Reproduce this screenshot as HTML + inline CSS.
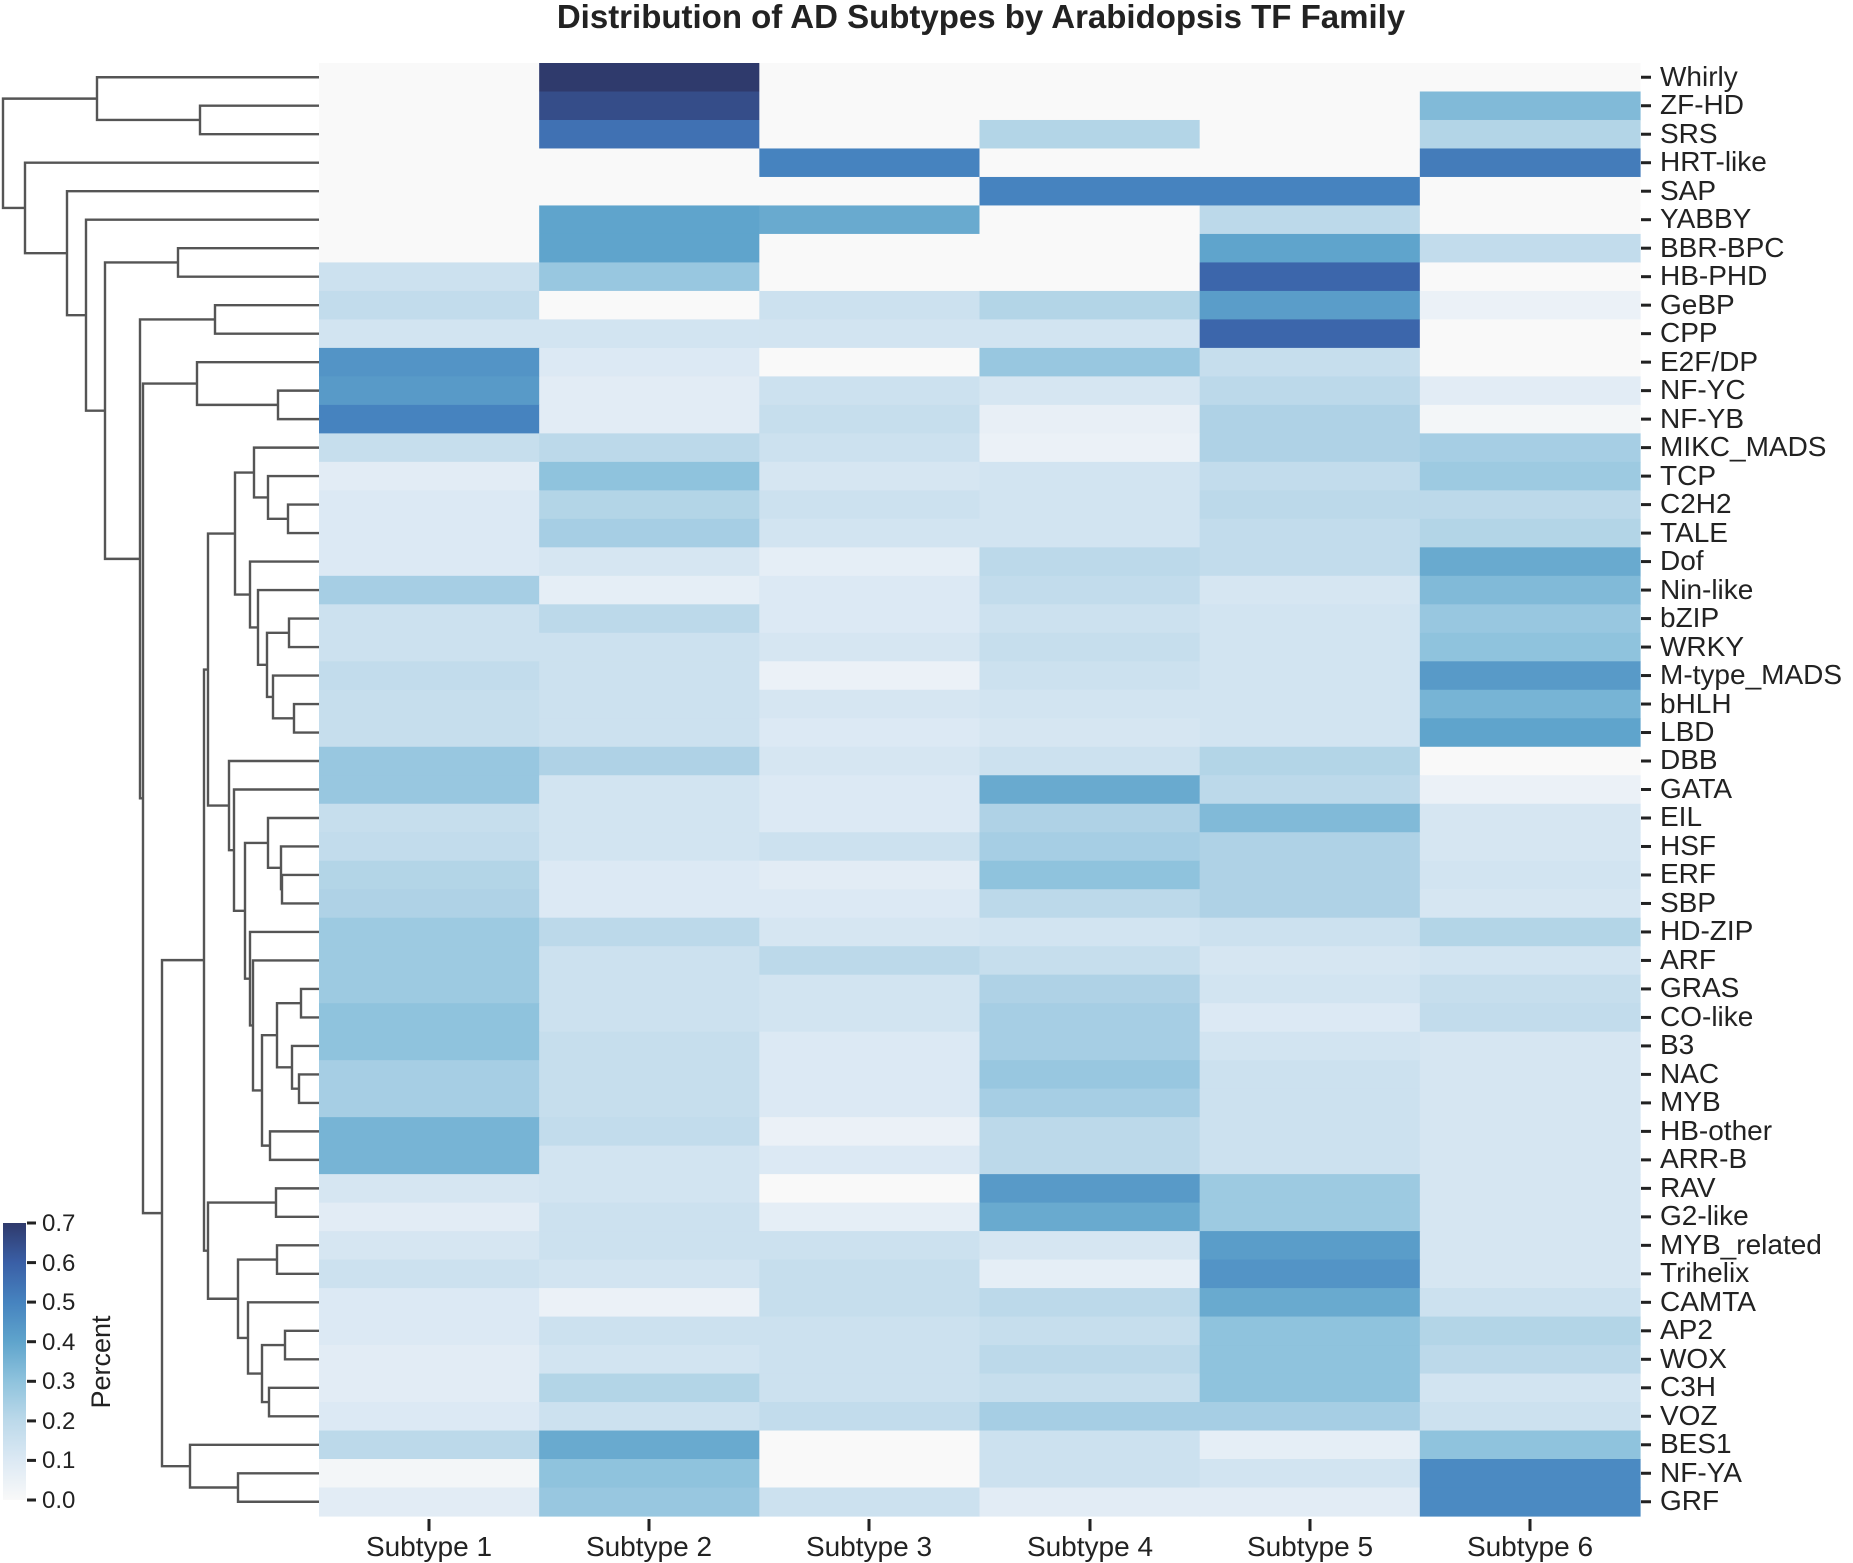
<!DOCTYPE html>
<html><head><meta charset="utf-8">
<style>
html,body{margin:0;padding:0;background:#fff;}
svg{display:block;}
text{font-family:"Liberation Sans",Arial,sans-serif;fill:#222;}
</style></head>
<body>
<svg id="s" width="1853" height="1563" viewBox="0 0 1853 1563" xmlns="http://www.w3.org/2000/svg">
<defs>
<linearGradient id="cb" x1="0" y1="1" x2="0" y2="0">
<stop offset="0" stop-color="#f9f9f9"/>
<stop offset="0.142857" stop-color="#dce9f4"/>
<stop offset="0.285714" stop-color="#bcd9ea"/>
<stop offset="0.428571" stop-color="#8fc3dd"/>
<stop offset="0.571429" stop-color="#5fa4cc"/>
<stop offset="0.714286" stop-color="#4683bf"/>
<stop offset="0.857143" stop-color="#3a5fa6"/>
<stop offset="1" stop-color="#2f3a6c"/>
</linearGradient>
</defs>
<g id="cells"></g>
<g id="dendro" fill="none" stroke="#555" stroke-width="2.4"></g>
<text x="981" y="28" text-anchor="middle" font-size="33" font-weight="bold">Distribution of AD Subtypes by Arabidopsis TF Family</text>
<g id="rt" stroke="#222" stroke-width="3"></g>
<g font-size="28">
<text x="1660" y="86">Whirly</text><text x="1660" y="114">ZF-HD</text><text x="1660" y="143">SRS</text><text x="1660" y="171">HRT-like</text><text x="1660" y="200">SAP</text><text x="1660" y="228">YABBY</text><text x="1660" y="257">BBR-BPC</text><text x="1660" y="285">HB-PHD</text><text x="1660" y="314">GeBP</text><text x="1660" y="342">CPP</text><text x="1660" y="371">E2F/DP</text><text x="1660" y="399">NF-YC</text><text x="1660" y="428">NF-YB</text><text x="1660" y="456">MIKC_MADS</text><text x="1660" y="485">TCP</text><text x="1660" y="513">C2H2</text><text x="1660" y="542">TALE</text><text x="1660" y="570">Dof</text><text x="1660" y="599">Nin-like</text><text x="1660" y="627">bZIP</text><text x="1660" y="656">WRKY</text><text x="1660" y="684">M-type_MADS</text><text x="1660" y="713">bHLH</text><text x="1660" y="741">LBD</text><text x="1660" y="769">DBB</text><text x="1660" y="798">GATA</text><text x="1660" y="826">EIL</text><text x="1660" y="855">HSF</text><text x="1660" y="883">ERF</text><text x="1660" y="912">SBP</text><text x="1660" y="940">HD-ZIP</text><text x="1660" y="969">ARF</text><text x="1660" y="997">GRAS</text><text x="1660" y="1026">CO-like</text><text x="1660" y="1054">B3</text><text x="1660" y="1083">NAC</text><text x="1660" y="1111">MYB</text><text x="1660" y="1140">HB-other</text><text x="1660" y="1168">ARR-B</text><text x="1660" y="1197">RAV</text><text x="1660" y="1225">G2-like</text><text x="1660" y="1254">MYB_related</text><text x="1660" y="1282">Trihelix</text><text x="1660" y="1311">CAMTA</text><text x="1660" y="1339">AP2</text><text x="1660" y="1368">WOX</text><text x="1660" y="1396">C3H</text><text x="1660" y="1425">VOZ</text><text x="1660" y="1453">BES1</text><text x="1660" y="1482">NF-YA</text><text x="1660" y="1510">GRF</text>
</g>
<g stroke="#222" stroke-width="3">
<line x1="429" y1="1519" x2="429" y2="1531"/><line x1="649" y1="1519" x2="649" y2="1531"/><line x1="869" y1="1519" x2="869" y2="1531"/><line x1="1090" y1="1519" x2="1090" y2="1531"/><line x1="1310" y1="1519" x2="1310" y2="1531"/><line x1="1530" y1="1519" x2="1530" y2="1531"/>
</g>
<g font-size="28" text-anchor="middle">
<text x="429" y="1556">Subtype 1</text><text x="649" y="1556">Subtype 2</text><text x="869" y="1556">Subtype 3</text><text x="1090" y="1556">Subtype 4</text><text x="1310" y="1556">Subtype 5</text><text x="1530" y="1556">Subtype 6</text>
</g>
<rect x="3" y="1223" width="23" height="277" fill="url(#cb)"/>
<g stroke="#222" stroke-width="3">
<line x1="27" y1="1223" x2="36" y2="1223"/><line x1="27" y1="1262.6" x2="36" y2="1262.6"/><line x1="27" y1="1302.1" x2="36" y2="1302.1"/><line x1="27" y1="1341.7" x2="36" y2="1341.7"/><line x1="27" y1="1381.3" x2="36" y2="1381.3"/><line x1="27" y1="1420.9" x2="36" y2="1420.9"/><line x1="27" y1="1460.4" x2="36" y2="1460.4"/><line x1="27" y1="1500" x2="36" y2="1500"/>
</g>
<g font-size="24">
<text x="42" y="1231">0.7</text><text x="42" y="1271">0.6</text><text x="42" y="1310">0.5</text><text x="42" y="1350">0.4</text><text x="42" y="1389">0.3</text><text x="42" y="1429">0.2</text><text x="42" y="1468">0.1</text><text x="42" y="1508">0.0</text>
</g>
<text x="110" y="1362" font-size="27" text-anchor="middle" transform="rotate(-90 110 1362)">Percent</text>
</svg>
<script>
(function(){
var NS="http://www.w3.org/2000/svg";
var V=[
[0,.7,0,0,0,0],[0,.65,0,0,0,.33],[0,.55,0,.22,0,.22],[0,0,.5,0,0,.52],[0,0,0,.5,.5,0],
[0,.4,.38,0,.2,0],[0,.4,0,0,.4,.18],[.15,.28,0,0,.58,0],[.18,0,.15,.22,.42,.05],[.13,.13,.13,.13,.58,0],
[.45,.1,0,.28,.17,0],[.43,.08,.15,.12,.2,.08],[.5,.08,.17,.06,.23,.02],[.17,.2,.15,.05,.23,.25],[.08,.3,.12,.13,.18,.27],
[.1,.22,.15,.13,.2,.2],[.1,.25,.13,.13,.18,.22],[.1,.12,.07,.2,.18,.38],[.25,.07,.1,.18,.12,.33],[.15,.2,.1,.15,.13,.28],
[.15,.15,.12,.17,.13,.3],[.18,.15,.05,.15,.13,.43],[.17,.15,.12,.13,.13,.35],[.17,.15,.1,.12,.13,.4],[.28,.23,.12,.15,.22,0],
[.28,.13,.1,.38,.2,.05],[.17,.13,.1,.23,.33,.12],[.18,.13,.15,.25,.23,.12],[.22,.1,.08,.3,.23,.13],[.23,.1,.1,.2,.23,.12],
[.27,.2,.12,.13,.15,.22],[.27,.15,.2,.17,.12,.13],[.27,.15,.13,.23,.13,.17],[.3,.15,.13,.25,.1,.18],[.3,.17,.1,.25,.13,.12],
[.25,.17,.1,.28,.15,.12],[.25,.17,.1,.25,.15,.12],[.35,.18,.05,.2,.15,.12],[.35,.13,.1,.2,.15,.12],[.12,.13,0,.43,.27,.12],
[.08,.15,.07,.38,.27,.12],[.12,.15,.15,.12,.42,.12],[.15,.13,.17,.07,.45,.12],[.1,.05,.17,.2,.38,.15],[.1,.15,.15,.17,.3,.22],
[.08,.13,.15,.2,.3,.2],[.08,.22,.15,.17,.3,.13],[.1,.15,.18,.25,.25,.15],[.2,.38,0,.15,.07,.3],[.02,.3,0,.15,.13,.48],
[.08,.28,.15,.08,.08,.48]];
var S=[[249,249,249],[220,233,244],[188,217,234],[143,195,221],[95,164,204],[70,131,191],[58,95,166],[47,58,108]];
function col(v){var t=Math.max(0,Math.min(.7,v))/0.1;var i=Math.min(6,Math.floor(t));var f=t-i;var a=S[i],b=S[i+1];
return "rgb("+[0,1,2].map(function(k){return Math.round(a[k]+(b[k]-a[k])*f)}).join(",")+")";}
var L=319,T=63,CW=(1640-319)/6,RH=(1516-63)/51;
var g=document.getElementById("cells");
for(var r=0;r<51;r++)for(var c=0;c<6;c++){var e=document.createElementNS(NS,"rect");
e.setAttribute("x",L+c*CW);e.setAttribute("y",T+r*RH);e.setAttribute("width",CW+0.6);e.setAttribute("height",RH+0.6);
e.setAttribute("fill",col(V[r][c]));g.appendChild(e);}
var rt=document.getElementById("rt");
for(var r=0;r<51;r++){var y=T+(r+.5)*RH;var l=document.createElementNS(NS,"line");
l.setAttribute("x1",1641);l.setAttribute("x2",1651);l.setAttribute("y1",y);l.setAttribute("y2",y);rt.appendChild(l);}
var T1=[0,[1,2,200],97];
var EG=[10,[11,12,278],197];
var I235=[[13,[14,[15,16,288],268],254],[17,[18,[[19,20,289],[21,[22,23,294],273],267],258],250],235];
var I229=[24,[25,[[26,[27,[28,29,282],281],268],[30,[31,[[[32,33,301],[34,[35,36,299],292],277],[37,38,270],262],253],250],245],234],229];
var I=[I235,I229,208];
var J1=[[39,40,276],[[41,42,277],[43,[[44,45,285],[46,47,269],262],248],238],208];
var H204=[I,J1,204];
var K=[48,[49,50,238],190];
var H162=[H204,K,162];
var G=[EG,H162,143];
var F=[[8,9,215],G,140];
var E=[[6,7,178],F,105];
var D=[5,E,86],C=[4,D,67],B=[3,C,25],R=[T1,B,3];
var d=document.getElementById("dendro"),p="";
function walk(n){if(typeof n==="number")return{x:L,y:T+(n+.5)*RH};
var a=walk(n[0]),b=walk(n[1]),x=n[2];
p+="M"+a.x+" "+a.y+"H"+x+"V"+b.y+"H"+b.x;
return{x:x,y:(a.y+b.y)/2};}
walk(R);
var pa=document.createElementNS(NS,"path");pa.setAttribute("d",p);d.appendChild(pa);
})();
</script>
</body></html>
